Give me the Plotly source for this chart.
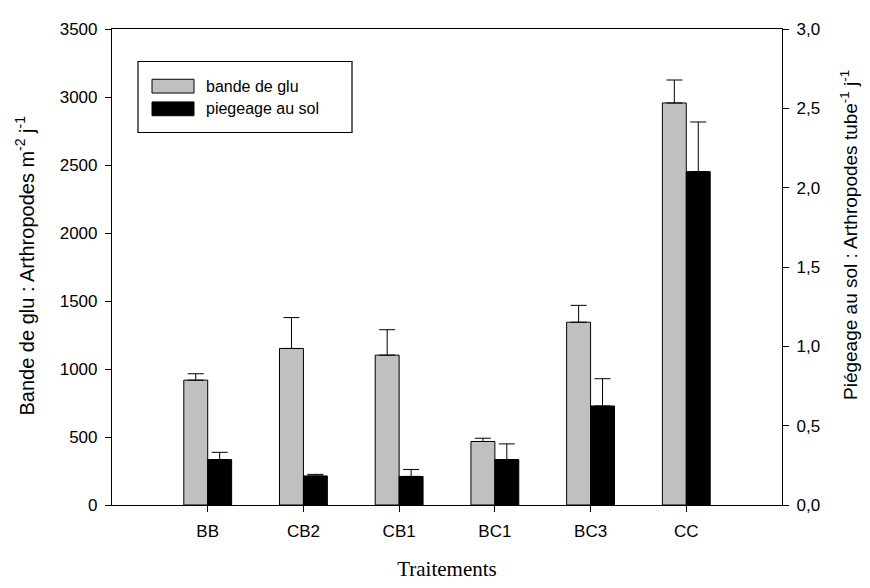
import plotly.graph_objects as go

categories = ["BB", "CB2", "CB1", "BC1", "BC3", "CC"]
cat_pos = [1, 2, 3, 4, 5, 6]
glu_values = [918, 1151, 1102, 467, 1344, 2956]
glu_err = [47, 227, 187, 24, 124, 169]
sol_values = [0.286, 0.183, 0.180, 0.286, 0.624, 2.101]
sol_err = [0.046, 0.010, 0.044, 0.099, 0.172, 0.313]
y_ticks = [0, 500, 1000, 1500, 2000, 2500, 3000, 3500]
y2_ticks = [0, 0.5, 1.0, 1.5, 2.0, 2.5, 3.0]
y2_ticktext = ["0,0", "0,5", "1,0", "1,5", "2,0", "2,5", "3,0"]

SANS = "Liberation Sans, Arial, sans-serif"
SERIF = "Liberation Serif, Times New Roman, serif"

fig = go.Figure()
fig.add_trace(go.Bar(
    x=cat_pos, y=glu_values, width=0.25, offset=-0.25,
    marker=dict(color="#c0c0c0", line=dict(color="#000000", width=1)),
    error_y=dict(type="data", symmetric=False, array=glu_err,
                 arrayminus=[0] * len(glu_err), color="#000000", thickness=1, width=8),
    name="bande de glu", showlegend=False, yaxis="y",
))
fig.add_trace(go.Bar(
    x=cat_pos, y=sol_values, width=0.25, offset=0,
    marker=dict(color="#000000", line=dict(color="#000000", width=1)),
    error_y=dict(type="data", symmetric=False, array=sol_err,
                 arrayminus=[0] * len(sol_err), color="#000000", thickness=1, width=8),
    name="piegeage au sol", showlegend=False, yaxis="y2",
))

# legend drawn manually (box, swatches, labels); coords given in screen px of the plot area
L, T = 112, 25
PW, PH = 670, 483
def px(x):
    return (x - L) / PW
def py(y):
    return (T + PH - y) / PH

shapes = [
    dict(type="rect", xref="paper", yref="paper", x0=px(138), x1=px(352), y0=py(130), y1=py(58),
         line=dict(color="#000000", width=1.2), fillcolor="white", layer="above"),
    dict(type="rect", xref="paper", yref="paper", x0=px(152), x1=px(194), y0=py(90), y1=py(76),
         line=dict(color="#000000", width=1), fillcolor="#c0c0c0", layer="above"),
    dict(type="rect", xref="paper", yref="paper", x0=px(152), x1=px(194), y0=py(113), y1=py(99),
         line=dict(color="#000000", width=1), fillcolor="#000000", layer="above"),
]
annotations = [
    dict(xref="paper", yref="paper", x=px(204), y=py(83), text="bande de glu", showarrow=False,
         xanchor="left", yanchor="middle", font=dict(family=SANS, size=16, color="#000000")),
    dict(xref="paper", yref="paper", x=px(204), y=py(106), text="piegeage au sol", showarrow=False,
         xanchor="left", yanchor="middle", font=dict(family=SANS, size=16, color="#000000")),
    dict(xref="paper", yref="paper", x=px(25), y=py(265), textangle=-90,
         text="Bande de glu : Arthropodes m<sup>-2</sup> j<sup>-1</sup>", showarrow=False,
         xanchor="center", yanchor="middle", font=dict(family=SANS, size=20, color="#000000")),
    dict(xref="paper", yref="paper", x=px(849), y=py(234), textangle=-90,
         text="Piégeage au sol : Arthropodes tube<sup>-1</sup> j<sup>-1</sup>", showarrow=False,
         xanchor="center", yanchor="middle", font=dict(family=SANS, size=19, color="#000000")),
]

fig.update_layout(
    width=862, height=580,
    margin=dict(l=104, r=88, t=17, b=80),
    plot_bgcolor="white", paper_bgcolor="white",
    barmode="overlay",
    shapes=shapes, annotations=annotations,
    font=dict(family=SANS, size=16, color="#000000"),
    xaxis=dict(
        range=[0, 7], tickvals=cat_pos, ticktext=categories,
        showgrid=False, zeroline=False, showline=True, linecolor="#000000", linewidth=1.2,
        ticks="outside", ticklen=6, tickcolor="#000000", tickwidth=1,
        tickfont=dict(family=SANS, size=17), ticklabelstandoff=4,
        title=dict(text="Traitements", font=dict(family=SERIF, size=21), standoff=21),
        mirror=True,
    ),
    yaxis=dict(
        range=[0, 3500], tickvals=y_ticks,
        showgrid=False, zeroline=False, showline=True, linecolor="#000000", linewidth=1.2,
        ticks="outside", ticklen=6, tickcolor="#000000", tickwidth=1,
        tickfont=dict(family=SANS, size=17), ticklabelstandoff=4,
    ),
    yaxis2=dict(
        range=[0, 3.0], tickvals=y2_ticks, ticktext=y2_ticktext,
        overlaying="y", side="right",
        showgrid=False, zeroline=False, showline=True, linecolor="#000000", linewidth=1.2,
        ticks="outside", ticklen=6, tickcolor="#000000", tickwidth=1,
        tickfont=dict(family=SANS, size=17), ticklabelstandoff=4,
    ),
)

fig.write_html("out.html")
